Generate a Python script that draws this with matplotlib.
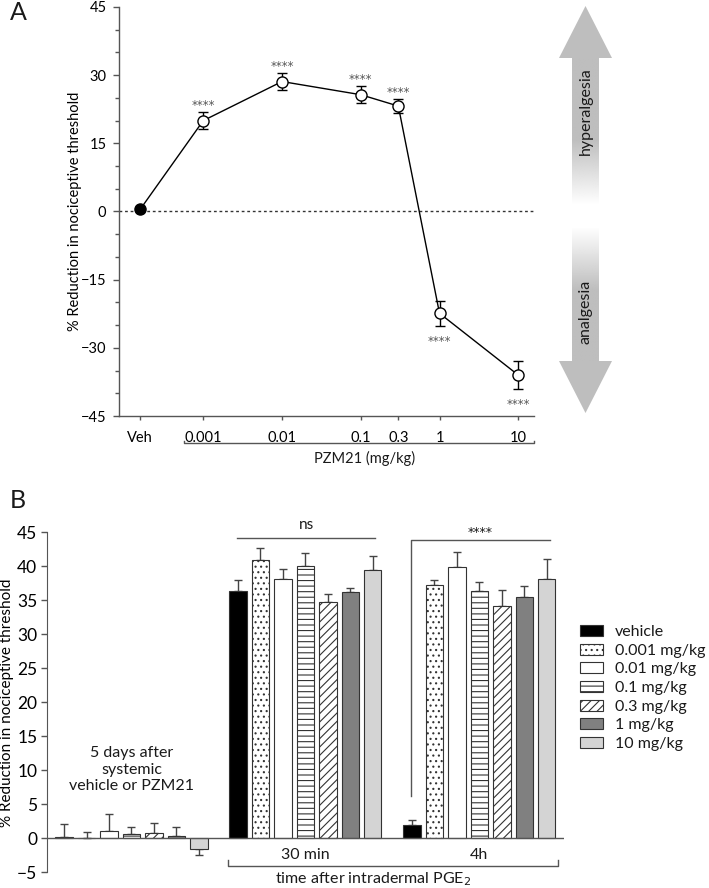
import numpy as np
import matplotlib
matplotlib.use("Agg")
import matplotlib.pyplot as plt
from matplotlib.patches import Polygon, Patch

plt.rcParams['font.family'] = ['Lato', 'DejaVu Sans']
plt.rcParams['hatch.linewidth'] = 0.8
plt.rcParams['text.color'] = '#1a1a1a'

W, H = 709, 888
GRAY = '#555555'

# ---- panel A data ----
dose_labels = ['Veh', '0.001', '0.01', '0.1', '0.3', '1', '10']
dose_x = [10 ** -3.8, 0.001, 0.01, 0.1, 0.3, 1, 10]
reduction_a = [0.5, 20.0, 28.6, 25.7, 23.2, -22.4, -36.0]
sem_a = [0.0, 1.9, 1.85, 1.9, 1.5, 2.8, 3.1]
stars_a = ['', '****', '****', '****', '****', '****', '****']

# ---- panel B data ----
legend_labels = ['vehicle', '0.001 mg/kg', '0.01 mg/kg', '0.1 mg/kg',
                 '0.3 mg/kg', '1 mg/kg', '10 mg/kg']
group_names = ['5 days', '30 min', '4h']
vals_5d = [0.2, 0.0, 1.1, 0.6, 0.8, 0.4, -1.5]
err_5d = [1.9, 0.9, 2.5, 1.1, 1.4, 1.3, 0.9]
vals_30m = [36.3, 40.9, 38.2, 40.1, 34.8, 36.2, 39.4]
err_30m = [1.7, 1.8, 1.4, 1.8, 1.1, 0.6, 2.1]
vals_4h = [2.0, 37.2, 39.9, 36.3, 34.1, 35.5, 38.1]
err_4h = [0.7, 0.8, 2.2, 1.4, 2.4, 1.6, 2.9]

facecolors = ['black', 'white', 'white', 'white', 'white', '#808080', '#d4d4d4']
hatches = [None, '...', None, '---', '////', None, None]

STAR_FONT = ['DejaVu Sans']


def fig_rect(x0, y0, x1, y1):
    # pixel box -> figure fraction rect
    return [x0 / W, 1 - y1 / H, (x1 - x0) / W, (y1 - y0) / H]


fig = plt.figure(figsize=(W / 100, H / 100), dpi=100)

# =================== A ===================
ax = fig.add_axes(fig_rect(119, 7, 534, 416))
ax.set_xscale('log')
ax.set_xlim(10 ** -4.07, 10 ** 1.2)
ax.set_ylim(-45, 45)
ax.axhline(0, color='#333333', lw=1, ls=(0, (2, 2)), zorder=1)
ax.plot(dose_x, reduction_a, color='black', lw=1, zorder=2)
ax.errorbar(dose_x[1:], reduction_a[1:], yerr=sem_a[1:], fmt='none',
            ecolor='black', elinewidth=1, capsize=3.5, capthick=1, zorder=3)
ax.plot(dose_x[1:], reduction_a[1:], 'o', ms=8, mfc='white', mec='black',
        mew=1, zorder=4)
ax.plot(dose_x[:1], reduction_a[:1], 'o', ms=8, mfc='black', mec='black',
        zorder=4)
for x, y, e, s in zip(dose_x, reduction_a, sem_a, stars_a):
    if not s:
        continue
    yy = y + e + 1.4 if y > 0 else y - e - 3.4
    ax.text(x, yy, s, ha='center', va='center', fontsize=8.5,
            color='#555555', family=STAR_FONT)

ax.set_yticks(np.arange(-45, 46, 15))
ax.set_yticks(np.arange(-45, 46, 5), minor=True)
ax.set_xticks(dose_x)
ax.set_xticklabels(dose_labels)
ax.xaxis.set_minor_locator(matplotlib.ticker.NullLocator())
ax.tick_params(axis='both', which='major', direction='out', length=4,
               width=1, color=GRAY, labelsize=10.5, pad=5)
ax.tick_params(axis='x', which='major', length=3, pad=8)
ax.tick_params(axis='y', which='minor', direction='out', length=3, width=1,
               color=GRAY)
for sp in ['top', 'right']:
    ax.spines[sp].set_visible(False)
for sp in ['left', 'bottom']:
    ax.spines[sp].set_color(GRAY)
    ax.spines[sp].set_linewidth(1)
ax.set_ylabel('% Reduction in nociceptive threshold', fontsize=10.5)
ax.yaxis.set_label_coords(-0.088, 0.5)

# PZM21 bracket
bx0, bx1 = 10 ** -3.24, 10 ** 1.2
ax.plot([bx0, bx0, bx1, bx1], [-50.4, -51.0, -51.0, -50.4], color=GRAY,
        lw=1, clip_on=False)
ax.text(10 ** -0.95, -54.3, 'PZM21 (mg/kg)', ha='center', va='center',
        fontsize=10.5)

fig.text(18 / W, 1 - 13 / H, 'A', fontsize=18, ha='center', va='center')

# arrow with fading shaft
axr = fig.add_axes(fig_rect(550, 0, 620, 420))
axr.set_xlim(550, 620)
axr.set_ylim(420, 0)
axr.axis('off')
arrow_col = np.array([190, 190, 190]) / 255
axr.add_patch(Polygon([(559, 58), (612, 58), (585.5, 6)], closed=True,
                      fc=arrow_col, ec='none'))
axr.add_patch(Polygon([(559, 361), (612, 361), (585.5, 413)], closed=True,
                      fc=arrow_col, ec='none'))
yy = np.linspace(58, 361, 400)
alpha = np.interp(yy, [58, 140, 205, 228, 290, 361], [1, 1, 0, 0, 1, 1])
img = np.zeros((len(yy), 2, 4))
img[:, :, :3] = arrow_col
img[:, :, 3] = alpha[:, None]
axr.imshow(img, extent=[572, 599, 361, 58], aspect='auto',
           interpolation='bilinear')
axr.text(585.5, 111, 'hyperalgesia', rotation=90, ha='center', va='center',
         fontsize=11.5)
axr.text(585.5, 312, 'analgesia', rotation=90, ha='center', va='center',
         fontsize=11.5)

# =================== B ===================
bx = fig.add_axes(fig_rect(47, 532.3, 564, 872.3))
bx.set_xlim(-3.76, 19.27)
bx.set_ylim(-5, 45)
group_pos = [0, 7.75, 15.5]
all_vals = [vals_5d, vals_30m, vals_4h]
all_errs = [err_5d, err_30m, err_4h]
offsets = np.arange(7) - 3
for g, vals, errs in zip(group_pos, all_vals, all_errs):
    vals = np.array(vals)
    errs = np.array(errs)
    xs = g + offsets
    for i in range(7):
        bx.bar(xs[i], vals[i], width=0.78, color=facecolors[i],
               edgecolor='#333333', linewidth=0.8, hatch=hatches[i], zorder=2)
    lo = np.where(vals < 0, errs, 0)
    hi = np.where(vals >= 0, errs, 0)
    bx.errorbar(xs, vals, yerr=[lo, hi], fmt='none', ecolor='#444444',
                elinewidth=1, capsize=3.2, capthick=1, zorder=1)

bx.axhline(0, color=GRAY, lw=1, zorder=3)
bx.set_yticks(np.arange(-5, 46, 5))
bx.set_xticks([])
bx.tick_params(axis='y', direction='out', length=4, width=1, color=GRAY,
               labelsize=12.5, pad=3)
for sp in ['top', 'right', 'bottom']:
    bx.spines[sp].set_visible(False)
bx.spines['left'].set_color(GRAY)
bx.set_ylabel('% Reduction in nociceptive threshold', fontsize=11)
bx.yaxis.set_label_coords(-0.064, 0.5)

bx.text(group_pos[0], 10.1, '5 days after\nsystemic\nvehicle or PZM21',
        ha='center', va='center', fontsize=11.5, linespacing=1.25)

# significance
bx.plot([4.69, 10.86], [44.2, 44.2], color=GRAY, lw=1, clip_on=False)
bx.text(7.78, 46.1, 'ns', ha='center', va='center', fontsize=11,
        clip_on=False)
bx.plot([12.46, 12.46, 18.65], [6.24, 43.8, 43.8], color=GRAY, lw=1,
        clip_on=False)
bx.text(15.53, 44.9, '****', ha='center', va='center', fontsize=9,
        family=STAR_FONT, clip_on=False)

# bottom labels
bx.text(group_pos[1], -2.5, group_names[1], ha='center', va='center',
        fontsize=11.5)
bx.text(group_pos[2], -2.5, group_names[2], ha='center', va='center',
        fontsize=11.5)
bx.plot([4.31, 4.31, 19.02, 19.02], [-3.2, -4.0, -4.0, -3.2], color=GRAY,
        lw=1, clip_on=False)
bx.text(10.77, -6.0, 'time after intradermal PGE$_2$', ha='center',
        va='center', fontsize=11.5, clip_on=False)

fig.text(18 / W, 1 - 501 / H, 'B', fontsize=18, ha='center', va='center')

handles = [Patch(facecolor=facecolors[i], edgecolor='#333333', linewidth=0.8,
                 hatch=hatches[i]) for i in range(7)]
fig.legend(handles, legend_labels, loc='upper left',
           bbox_to_anchor=(580 / W, 1 - 625 / H), frameon=False,
           fontsize=11.5, handlelength=1.45, handleheight=0.7,
           handletextpad=0.75, labelspacing=0.28, borderpad=0,
           borderaxespad=0)

fig.savefig('out.png', dpi=100)
